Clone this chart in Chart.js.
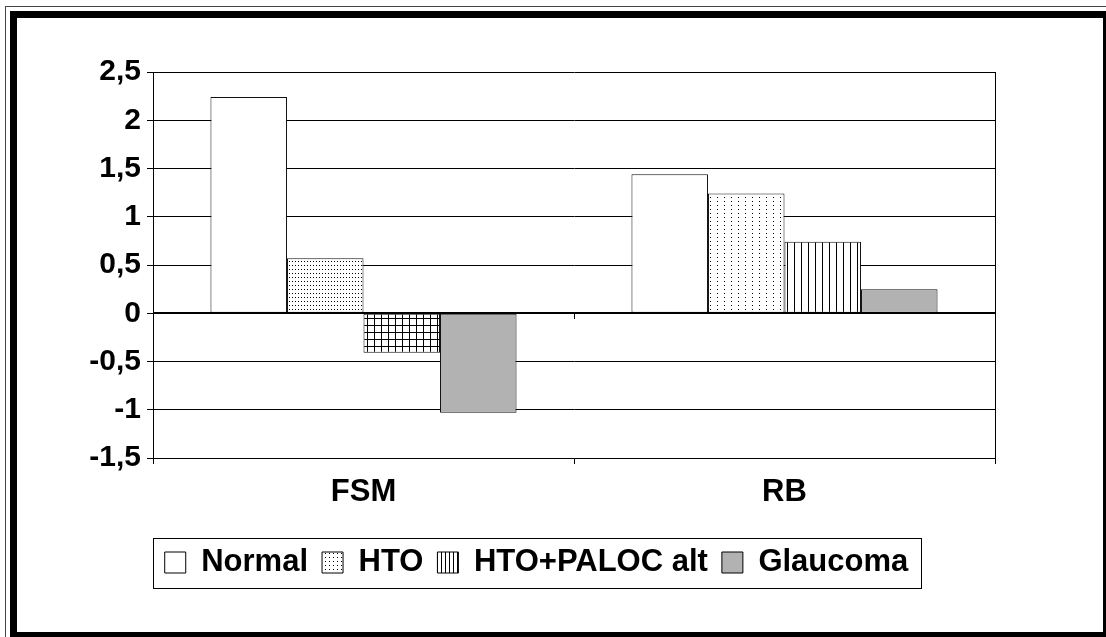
<!DOCTYPE html>
<html><head><meta charset="utf-8">
<script src="https://cdn.jsdelivr.net/npm/chart.js@4/dist/chart.umd.min.js"></script>
<style>
html,body{margin:0;padding:0;background:#fff;}
#wrap{position:relative;width:1106px;height:637px;overflow:hidden;background:#fff;}
canvas{position:absolute;left:0;top:0;}
.f{position:absolute;background:#000;pointer-events:none;}
</style></head><body>
<div id="wrap">
<canvas id="c" width="1106" height="637"></canvas>
<div class="f" style="left:5px;top:6px;width:1101px;height:1px;background:#444"></div>
<div class="f" style="left:5px;top:6px;width:1px;height:631px;background:#444"></div>
<div class="f" style="left:10px;top:11px;width:1096px;height:7px"></div>
<div class="f" style="left:10px;top:11px;width:7px;height:626px"></div>
<div class="f" style="left:1103px;top:11px;width:3px;height:626px"></div>
<div class="f" style="left:10px;top:632px;width:1096px;height:5px"></div>
</div>
<script>
const categories = ['FSM', 'RB'];
const seriesNames = ['Normal', 'HTO', 'HTO+PALOC alt', 'Glaucoma'];
const normalValues = [2.24, 1.44];
const htoValues = [0.57, 1.24];
const htoPalocValues = [-0.41, 0.74];
const glaucomaValues = [-1.03, 0.25];
const yTickLabels = ['-1,5', '-1', '-0,5', '0', '0,5', '1', '1,5', '2', '2,5'];

const canvas = document.getElementById('c');
const ctx = canvas.getContext('2d');

function makePattern(w, h, draw) {
  const c = document.createElement('canvas');
  c.width = w; c.height = h;
  const x = c.getContext('2d');
  x.fillStyle = '#fff'; x.fillRect(0, 0, w, h);
  x.fillStyle = '#000';
  draw(x, w, h);
  return ctx.createPattern(c, 'repeat');
}
const fineDots = makePattern(3, 4, (x) => { x.fillRect(1, 1, 1, 1); });
const colDots = makePattern(7, 4, (x) => { x.fillRect(3, 1, 1, 1); });
const gridPat = makePattern(7, 7, (x) => { x.fillRect(3, 0, 1, 7); x.fillRect(0, 3, 7, 1); });
const vLines = makePattern(7, 1, (x) => { x.fillRect(3, 0, 1, 1); });
const legendDots = makePattern(4, 4, (x) => { x.fillRect(1, 1, 1, 1); });
const legendVLines = makePattern(4, 1, (x) => { x.fillRect(1, 0, 1, 1); });
const gray = '#b2b2b2';

const legendFills = ['#ffffff', legendDots, legendVLines, gray];

const FONT = "'Liberation Sans', Arial, sans-serif";

const framePlugin = {
  id: 'framePlugin',
  afterDatasetsDraw(chart) {
    const c = chart.ctx, a = chart.chartArea;
    const y = chart.scales.y, xs = chart.scales.x;
    const y0 = Math.round(y.getPixelForValue(0));
    c.save();
    c.strokeStyle = '#000';
    c.lineWidth = 1;
    c.beginPath();
    c.moveTo(Math.round(a.right) + 0.5, a.top);
    c.lineTo(Math.round(a.right) + 0.5, a.bottom);
    c.stroke();
    c.lineWidth = 2;
    c.beginPath();
    c.moveTo(a.left, y0);
    c.lineTo(a.right, y0);
    c.stroke();
    c.lineWidth = 1;
    const x0 = xs.getPixelForValue(0), x1 = xs.getPixelForValue(1);
    const bounds = [a.left, (x0 + x1) / 2, a.right];
    c.beginPath();
    bounds.forEach(b => { const bx = Math.round(b) + 0.5; c.moveTo(bx, y0); c.lineTo(bx, y0 + 6); });
    c.stroke();
    c.restore();
  },
  afterDraw(chart) {
    const lg = chart.legend;
    if (!lg || !lg.legendHitBoxes || !lg.legendHitBoxes.length) return;
    const hb = lg.legendHitBoxes;
    let l = Infinity, r = -Infinity;
    hb.forEach(h => { l = Math.min(l, h.left); r = Math.max(r, h.left + h.width); });
    const cy = hb[0].top + hb[0].height / 2;
    const c = chart.ctx;
    c.save();
    c.strokeStyle = '#000';
    c.lineWidth = 1;
    c.strokeRect(Math.round(l - 12) + 0.5, Math.round(cy - 25) + 0.5, Math.round(r - l + 24), 50);
    c.restore();
  }
};

const datasets = [
  { label: seriesNames[0], data: normalValues, backgroundColor: ['#ffffff', '#ffffff'] },
  { label: seriesNames[1], data: htoValues, backgroundColor: [fineDots, colDots] },
  { label: seriesNames[2], data: htoPalocValues, backgroundColor: [gridPat, vLines] },
  { label: seriesNames[3], data: glaucomaValues, backgroundColor: [gray, gray] }
].map(d => Object.assign(d, {
  borderColor: '#111', borderWidth: 1, borderSkipped: false,
  barPercentage: 1, categoryPercentage: 0.727
}));

new Chart(ctx, {
  type: 'bar',
  data: { labels: categories, datasets },
  options: {
    responsive: false,
    animation: false,
    devicePixelRatio: 1,
    layout: { padding: { left: 78, right: 111, top: 72, bottom: 49 } },
    plugins: {
      tooltip: { enabled: false },
      legend: {
        position: 'bottom',
        align: 'center',
        labels: {
          color: '#000',
          font: { family: FONT, size: 31, weight: 'bold' },
          boxWidth: 21, boxHeight: 21, padding: 14,
          generateLabels: (chart) => chart.data.datasets.map((ds, i) => ({
            text: ds.label, fillStyle: legendFills[i], strokeStyle: '#000',
            lineWidth: 1, hidden: false, datasetIndex: i, fontColor: '#000'
          }))
        }
      }
    },
    scales: {
      x: {
        afterFit: (s) => { s.height = 75; },
        grid: { offset: true, drawOnChartArea: false, drawTicks: true, tickLength: 6, color: '#000' },
        border: { display: true, color: '#000', width: 1 },
        ticks: { color: '#000', font: { family: FONT, size: 31, weight: 'bold' }, padding: 10, maxRotation: 0 }
      },
      y: {
        min: -1.5, max: 2.5,
        afterFit: (s) => { s.width = 75; },
        grid: { color: '#000', lineWidth: 1, tickLength: 6, drawTicks: true },
        border: { display: true, color: '#000', width: 1 },
        ticks: {
          stepSize: 0.5, color: '#000', padding: 6,
          font: { family: FONT, size: 30, weight: 'bold' },
          callback: (v, i) => yTickLabels[i]
        }
      }
    }
  },
  plugins: [framePlugin]
});
</script>
</body></html>
